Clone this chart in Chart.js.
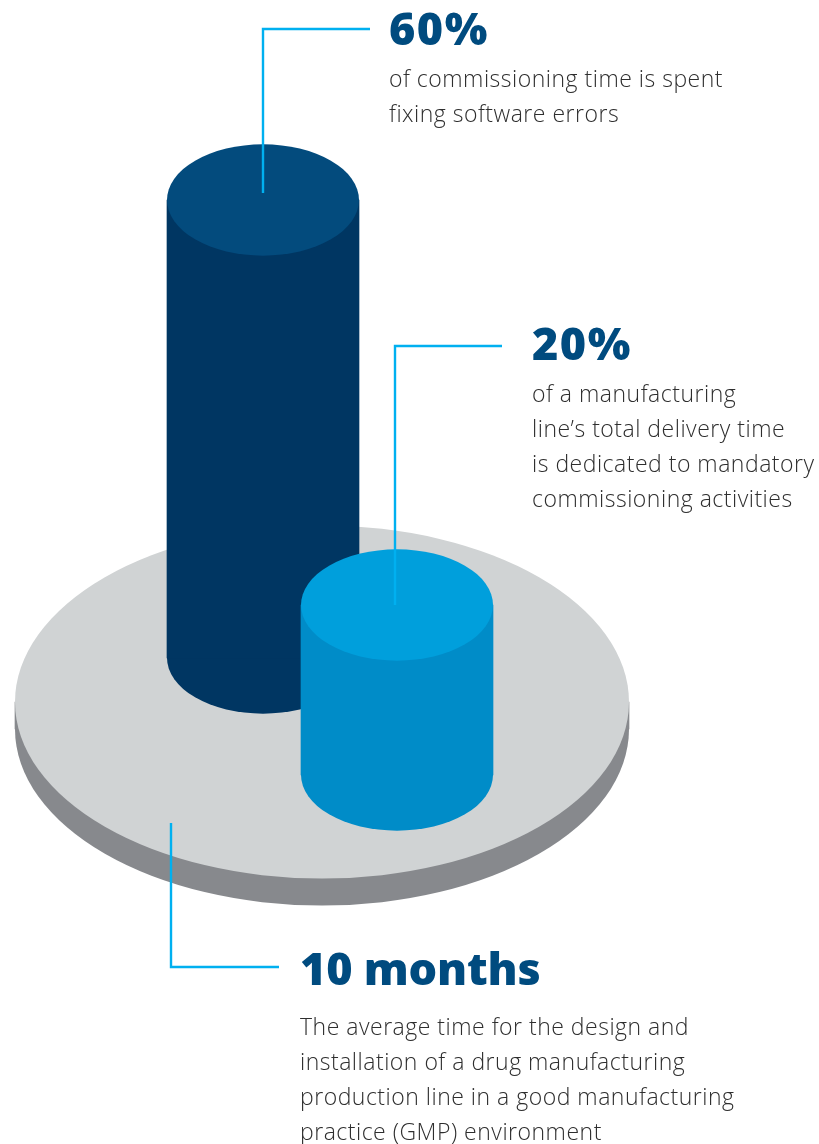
<!DOCTYPE html>
<html>
<head>
<meta charset="utf-8">
<title>Commissioning time</title>
<script src="https://cdn.jsdelivr.net/npm/chart.js@4"></script>
<style>
  html, body { margin: 0; padding: 0; background: #fff; }
  canvas { display: block; }
</style>
</head>
<body>
<canvas id="cylinders" width="819" height="1144"></canvas>
<script>
// figures
const categories = ['Production line', 'Software errors', 'Mandatory commissioning'];
const values = [10, 60, 20];
const headlines = ['10 months', '60%', '20%'];
const descriptions = [
    ['The average time for the design and', 'installation of a drug manufacturing', 'production line in a good manufacturing', 'practice (GMP) environment'],
    ['of commissioning time is spent', 'fixing software errors'],
    ['of a manufacturing', 'line\u2019s total delivery time', 'is dedicated to mandatory', 'commissioning activities']
];

// page layout, one entry per figure
const W = 819, H = 1144;
const centres = [322, 263, 397];
const widths = [614, 192, 192];
const baselines = [729, 658, 775];   // pixel row of each drum's bottom centre
const heights = [27, 458, 170];      // drawn height of the full value
const squash = [0.575, 0.58, 0.58];  // ellipse height / width
const orders = [3, 2, 1];            // later figures sit in front
const sideColors = ['#87898d', '#003662', '#008cc8'];
const lidColors = ['#d0d3d4', '#034b7d', '#009fdc'];
const leaders = [
    [[171, 823], [171, 967], [279, 967]],
    [[263, 193], [263, 29], [370, 29]],
    [[395, 605], [395, 346], [502, 346]]
];
const textBlocks = [
    { x: 300, head: 985, body: 1035, tracking: '-0.2px' },
    { x: 389, head: 45, body: 87, tracking: '1.5px' },
    { x: 532, head: 360, body: 402, tracking: '1.5px' }
];

// each figure is its own measure, so each gets its own hidden y axis
function axisFor(i) {
    const unit = heights[i] / values[i];
    return {
        type: 'linear',
        display: false,
        min: -(H - baselines[i]) / unit,
        max: baselines[i] / unit
    };
}

const ellipse = (ctx, x, y, rx, ratio, color) => {
    ctx.fillStyle = color;
    ctx.beginPath();
    ctx.ellipse(x, y, rx, rx * ratio, 0, 0, Math.PI * 2);
    ctx.fill();
};

// bars are the drum walls, this adds the round bottom and the lid
const drumEnds = {
    id: 'drumEnds',
    beforeDatasetDraw(chart, args) {
        if (args.meta.type !== 'bar') return;
        const bar = args.meta.data[0];
        ellipse(chart.ctx, bar.x, bar.base, bar.width / 2, squash[args.index], sideColors[args.index]);
    },
    afterDatasetDraw(chart, args) {
        if (args.meta.type !== 'bar') return;
        const bar = args.meta.data[0];
        ellipse(chart.ctx, bar.x, bar.y, bar.width / 2, squash[args.index], lidColors[args.index]);
    }
};

const callouts = {
    id: 'callouts',
    afterDraw(chart) {
        const ctx = chart.ctx;
        ctx.save();
        ctx.textAlign = 'left';
        ctx.textBaseline = 'alphabetic';
        headlines.forEach((head, i) => {
            const b = textBlocks[i];
            ctx.fillStyle = '#004b7f';
            ctx.font = '800 45px "Open Sans"';
            ctx.letterSpacing = b.tracking;
            ctx.fillText(head, b.x, b.head);
            ctx.fillStyle = '#2e2e2e';
            ctx.font = '300 23px "Open Sans"';
            ctx.letterSpacing = '0.5px';
            descriptions[i].forEach((line, n) => ctx.fillText(line, b.x, b.body + n * 35));
        });
        ctx.restore();
    }
};

const barSets = categories.map((label, i) => ({
    type: 'bar',
    label: label,
    data: [{ x: centres[i], y: values[i] }],
    yAxisID: 'y' + i,
    barThickness: widths[i],
    grouped: false,
    backgroundColor: sideColors[i],
    borderWidth: 0,
    order: orders[i]
}));

const leaderSets = leaders.map(path => ({
    type: 'line',
    data: path.map(p => ({ x: p[0], y: p[1] })),
    yAxisID: 'page',
    borderColor: '#00b0f0',
    borderWidth: 2.4,
    borderCapStyle: 'butt',
    borderJoinStyle: 'miter',
    pointRadius: 0,
    tension: 0,
    order: 0
}));

new Chart(document.getElementById('cylinders'), {
    data: { datasets: barSets.concat(leaderSets) },
    options: {
        responsive: false,
        animation: false,
        layout: { padding: 0 },
        plugins: { legend: { display: false }, tooltip: { enabled: false } },
        scales: {
            x: { type: 'linear', display: false, offset: false, min: 0, max: W },
            y0: axisFor(0),
            y1: axisFor(1),
            y2: axisFor(2),
            page: { type: 'linear', display: false, min: 0, max: H, reverse: true }
        }
    },
    plugins: [drumEnds, callouts]
});
</script>
</body>
</html>
